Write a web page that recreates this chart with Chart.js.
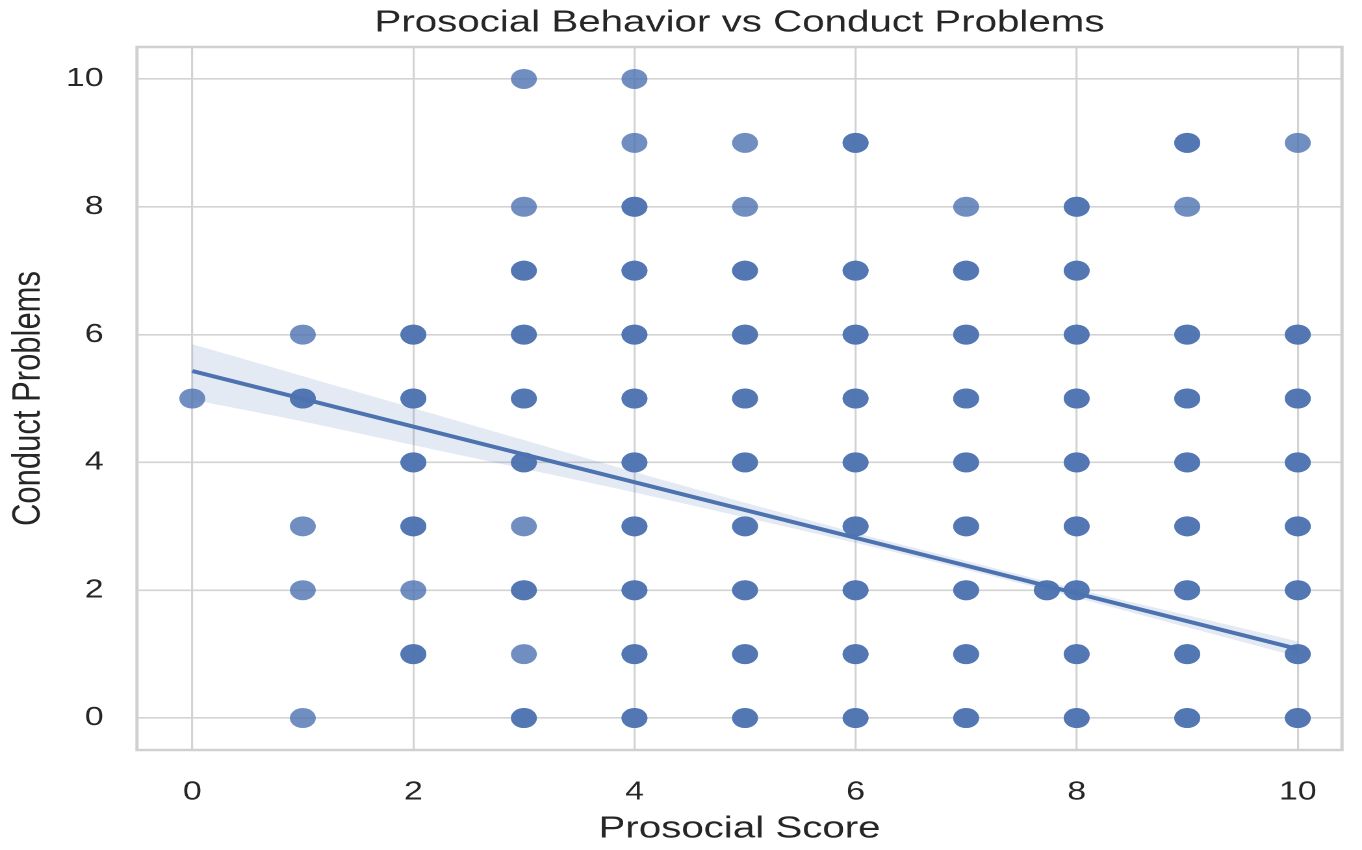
<!DOCTYPE html>
<html>
<head>
<meta charset="utf-8">
<script src="https://cdn.jsdelivr.net/npm/chart.js@4/dist/chart.umd.min.js"></script>
<style>
  html, body { margin: 0; padding: 0; background: #fff; overflow: hidden; }
  /* the reference is stretched sideways, so draw narrow and widen */
  #wrap { width: 1048px; height: 850px; transform: scaleX(1.29962); transform-origin: 0 0; }
</style>
</head>
<body>
<div id="wrap"><canvas id="chart"></canvas></div>
<script>
// ── scatter data (x, y, how many points sit on the spot) ──
const scoreX = [
  0,
  1, 1, 1, 1, 1,
  2, 2, 2, 2, 2, 2,
  3, 3, 3, 3, 3, 3, 3, 3, 3, 3,
  4, 4, 4, 4, 4, 4, 4, 4, 4, 4, 4,
  5, 5, 5, 5, 5, 5, 5, 5, 5, 5,
  6, 6, 6, 6, 6, 6, 6, 6, 6,
  7, 7, 7, 7, 7, 7, 7, 7, 7,
  7.73,
  8, 8, 8, 8, 8, 8, 8, 8, 8,
  9, 9, 9, 9, 9, 9, 9, 9, 9,
  10, 10, 10, 10, 10, 10, 10, 10
];
const conductY = [
  5,
  6, 5, 3, 2, 0,
  6, 5, 4, 3, 2, 1,
  10, 8, 7, 6, 5, 4, 3, 2, 1, 0,
  10, 9, 8, 7, 6, 5, 4, 3, 2, 1, 0,
  9, 8, 7, 6, 5, 4, 3, 2, 1, 0,
  9, 7, 6, 5, 4, 3, 2, 1, 0,
  8, 7, 6, 5, 4, 3, 2, 1, 0,
  2,
  8, 7, 6, 5, 4, 3, 2, 1, 0,
  9, 8, 6, 5, 4, 3, 2, 1, 0,
  9, 6, 5, 4, 3, 2, 1, 0
];
const stacked = [
  1,
  1, 2, 1, 1, 1,
  2, 2, 2, 2, 1, 2,
  1, 1, 2, 2, 2, 2, 1, 2, 1, 2,
  1, 1, 2, 2, 2, 2, 2, 2, 2, 2, 2,
  1, 1, 2, 2, 2, 2, 2, 2, 2, 2,
  2, 2, 2, 2, 2, 2, 2, 2, 2,
  1, 2, 2, 2, 2, 2, 2, 2, 2,
  2,
  2, 2, 2, 2, 2, 2, 2, 2, 2,
  2, 1, 2, 2, 2, 2, 2, 2, 2,
  1, 2, 2, 2, 2, 2, 2, 2
];

// ── regression fit and its confidence band ──
const fitX = [0, 10];
const fitY = [5.43, 1.08];
const bandX = [0, 1, 2, 3, 4, 5, 6, 7, 8, 9, 10];
const bandUpper = [5.85, 5.35, 4.85, 4.35, 3.85, 3.37, 2.90, 2.46, 2.02, 1.61, 1.20];
const bandLower = [4.98, 4.64, 4.27, 3.90, 3.53, 3.14, 2.74, 2.32, 1.88, 1.42, 0.96];

const xTicks = [0, 2, 4, 6, 8, 10];
const yTicks = [0, 2, 4, 6, 8, 10];

const BLUE = "#4c72b0";
const TEXT = "#262626";
const GRID = "#d3d3d3";

Chart.defaults.font.family = "'Liberation Sans', Arial, sans-serif";
Chart.defaults.color = TEXT;

const scatterPts = [];
scoreX.forEach((x, i) => {
  for (let k = 0; k < stacked[i]; k++) scatterPts.push({ x, y: conductY[i] });
});
const pair = (xs, ys) => xs.map((x, i) => ({ x, y: ys[i] }));

// light grey frame round the plot, like the seaborn spines
const frame = {
  id: "frame",
  beforeDatasetsDraw(chart) {
    const { ctx, chartArea: a } = chart;
    ctx.save();
    ctx.strokeStyle = "#d0d0d0";
    ctx.lineWidth = 2.5;
    ctx.strokeRect(a.left, a.top, a.right - a.left, a.bottom - a.top);
    ctx.restore();
  },
};

new Chart(document.getElementById("chart"), {
  type: "scatter",
  data: {
    datasets: [
      {
        type: "line",
        label: "fit",
        data: pair(fitX, fitY),
        borderColor: BLUE,
        borderWidth: 4,
        pointRadius: 0,
        fill: false,
        order: 1,
      },
      {
        type: "line",
        label: "ci upper",
        data: pair(bandX, bandUpper),
        borderWidth: 0,
        borderColor: "rgba(0,0,0,0)",
        backgroundColor: "rgba(76,114,176,0.15)",
        pointRadius: 0,
        tension: 0.3,
        fill: "+1",
        order: 2,
      },
      {
        type: "line",
        label: "ci lower",
        data: pair(bandX, bandLower),
        borderWidth: 0,
        borderColor: "rgba(0,0,0,0)",
        pointRadius: 0,
        tension: 0.3,
        fill: false,
        order: 2,
      },
      {
        label: "points",
        data: scatterPts,
        backgroundColor: "rgba(76,114,176,0.8)",
        borderWidth: 0,
        pointRadius: 10,
        pointHoverRadius: 10,
        order: 3,
      },
    ],
  },
  options: {
    responsive: true,
    maintainAspectRatio: false,
    animation: false,
    devicePixelRatio: 2,
    layout: { padding: { top: 0, right: 15.4, bottom: 0, left: 0 } },
    plugins: {
      legend: { display: false },
      tooltip: { enabled: false },
      title: {
        display: true,
        text: "Prosocial Behavior vs Conduct Problems",
        fullSize: false,
        color: TEXT,
        font: { size: 31, weight: "normal" },
        padding: { top: 4.4, bottom: 5.4 },
      },
    },
    scales: {
      x: {
        type: "linear",
        min: -0.5,
        max: 10.4,
        afterBuildTicks: s => { s.ticks = xTicks.map(v => ({ value: v })); },
        afterFit: s => { s.height = 100; },
        ticks: { font: { size: 26 }, color: TEXT, padding: 26.5 },
        grid: { color: GRID, lineWidth: 1.6, drawTicks: false },
        border: { display: false },
        title: {
          display: true,
          text: "Prosocial Score",
          color: TEXT,
          font: { size: 31 },
          padding: { top: 0, bottom: 2.4 },
        },
      },
      y: {
        min: -0.5,
        max: 10.5,
        afterBuildTicks: s => { s.ticks = yTicks.map(v => ({ value: v })); },
        afterFit: s => { s.width = 105.4; },
        ticks: { font: { size: 26 }, color: TEXT, padding: 25.7 },
        grid: { color: GRID, lineWidth: 1.6, drawTicks: false },
        border: { display: false },
        title: {
          display: true,
          text: "Conduct Problems",
          color: TEXT,
          font: { size: 31 },
          padding: { top: 3.4, bottom: 0 },
        },
      },
    },
  },
  plugins: [frame],
});
</script>
</body>
</html>
